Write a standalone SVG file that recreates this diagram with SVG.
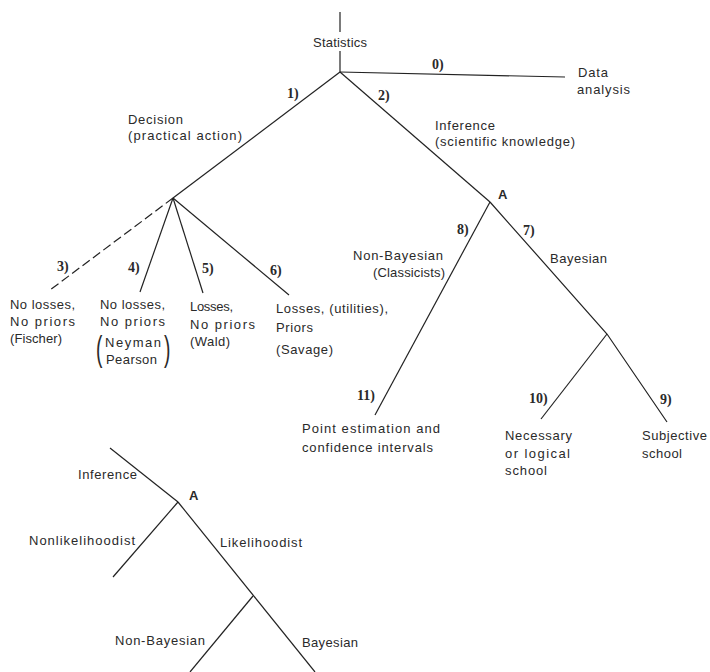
<svg xmlns="http://www.w3.org/2000/svg" width="710" height="672" viewBox="0 0 710 672">
<style>
.t{font-family:"Liberation Sans",Arial,sans-serif;font-size:13px;fill:#2a2a2a}
.n{font-family:"Liberation Serif","Times New Roman",serif;font-size:14px;font-weight:bold;fill:#2a2a2a}
.a{font-family:"Liberation Sans",Arial,sans-serif;font-size:13px;font-weight:bold;fill:#2a2a2a}
.p{font-family:"Liberation Sans",Arial,sans-serif;font-size:35px;fill:#2a2a2a}
.l{stroke:#222;stroke-width:1.2;fill:none}
.d{stroke-dasharray:9 4}
</style>
<rect width="710" height="672" fill="#fff"/>
<g id="connectors">
<line class="l" x1="340" y1="12" x2="340" y2="32"/>
<line class="l" x1="340" y1="51" x2="340" y2="72"/>
<line class="l" x1="340" y1="72" x2="565" y2="77"/>
<line class="l" x1="340" y1="72" x2="173" y2="198"/>
<line class="l" x1="340" y1="72" x2="490" y2="202"/>
<line class="l d" x1="173" y1="198" x2="50" y2="290"/>
<line class="l" x1="173" y1="198" x2="140" y2="292"/>
<line class="l" x1="173" y1="198" x2="203" y2="293"/>
<line class="l" x1="173" y1="198" x2="289" y2="295"/>
<line class="l" x1="490" y1="202" x2="375" y2="415"/>
<polyline class="l" points="490,202 607,334 667,422"/>
<line class="l" x1="607" y1="334" x2="541" y2="419"/>
<line class="l" x1="110" y1="448" x2="178" y2="502"/>
<line class="l" x1="178" y1="502" x2="113" y2="577"/>
<line class="l" x1="178" y1="502" x2="315" y2="672"/>
<line class="l" x1="253" y1="596" x2="190" y2="672"/>
</g>
<g id="statistics"><text class="t" x="313" y="47" textLength="54">Statistics</text></g>
<g id="label0"><text class="n" x="432" y="69">0)</text></g>
<g id="data-analysis">
<text class="t" x="578" y="77" textLength="30">Data</text>
<text class="t" x="577" y="94" textLength="53">analysis</text>
</g>
<g id="label1"><text class="n" x="287" y="98">1)</text></g>
<g id="label2"><text class="n" x="378" y="100">2)</text></g>
<g id="inference">
<text class="t" x="435" y="130" textLength="60">Inference</text>
<text class="t" x="435" y="146" textLength="140">(scientific knowledge)</text>
</g>
<g id="decision">
<text class="t" x="128" y="124" textLength="55">Decision</text>
<text class="t" x="128" y="140" textLength="114">(practical action)</text>
</g>
<g id="label3"><text class="n" x="57" y="271">3)</text></g>
<g id="label4"><text class="n" x="128" y="272">4)</text></g>
<g id="label5"><text class="n" x="202" y="273">5)</text></g>
<g id="label6"><text class="n" x="270" y="275">6)</text></g>
<g id="fischer">
<text class="t" x="10" y="309" textLength="65">No losses,</text>
<text class="t" x="10" y="326" textLength="65">No priors</text>
<text class="t" x="10" y="343" textLength="52">(Fischer)</text>
</g>
<g id="neyman-pearson">
<text class="t" x="100" y="309" textLength="65">No losses,</text>
<text class="t" x="100" y="326" textLength="65">No priors</text>
<text class="p" transform="translate(96,361) scale(0.55,1)">(</text>
<text class="t" x="105" y="347" textLength="56">Neyman</text>
<text class="t" x="106" y="364" textLength="51">Pearson</text>
<text class="p" transform="translate(164,361) scale(0.55,1)">)</text>
</g>
<g id="wald">
<text class="t" x="190" y="311" textLength="43">Losses,</text>
<text class="t" x="190" y="329" textLength="65">No priors</text>
<text class="t" x="190" y="346" textLength="40">(Wald)</text>
</g>
<g id="savage">
<text class="t" x="276" y="313" textLength="112">Losses, (utilities),</text>
<text class="t" x="276" y="332" textLength="37">Priors</text>
<text class="t" x="276" y="354" textLength="57">(Savage)</text>
</g>
<g id="nodeA"><text class="a" x="498" y="199">A</text></g>
<g id="label8"><text class="n" x="457" y="234">8)</text></g>
<g id="label7"><text class="n" x="523" y="235">7)</text></g>
<g id="non-bayesian">
<text class="t" x="353" y="260" textLength="90">Non-Bayesian</text>
<text class="t" x="373" y="277" textLength="72">(Classicists)</text>
</g>
<g id="bayesian"><text class="t" x="550" y="263" textLength="57">Bayesian</text></g>
<g id="label11"><text class="n" x="357" y="400">11)</text></g>
<g id="label10"><text class="n" x="529" y="403">10)</text></g>
<g id="label9"><text class="n" x="660" y="404">9)</text></g>
<g id="point-estimation">
<text class="t" x="302" y="433" textLength="138">Point estimation and</text>
<text class="t" x="302" y="452" textLength="131">confidence intervals</text>
</g>
<g id="necessary">
<text class="t" x="505" y="440" textLength="67">Necessary</text>
<text class="t" x="505" y="458" textLength="65">or logical</text>
<text class="t" x="505" y="475" textLength="42">school</text>
</g>
<g id="subjective">
<text class="t" x="642" y="440" textLength="65">Subjective</text>
<text class="t" x="642" y="458" textLength="40">school</text>
</g>
<g id="inference2"><text class="t" x="78" y="479" textLength="59">Inference</text></g>
<g id="nodeA2"><text class="a" x="189" y="500">A</text></g>
<g id="nonlikelihoodist"><text class="t" x="29" y="545" textLength="106">Nonlikelihoodist</text></g>
<g id="likelihoodist"><text class="t" x="220" y="547" textLength="82">Likelihoodist</text></g>
<g id="non-bayesian2"><text class="t" x="115" y="645" textLength="90">Non-Bayesian</text></g>
<g id="bayesian2"><text class="t" x="302" y="647" textLength="56">Bayesian</text></g>
</svg>
